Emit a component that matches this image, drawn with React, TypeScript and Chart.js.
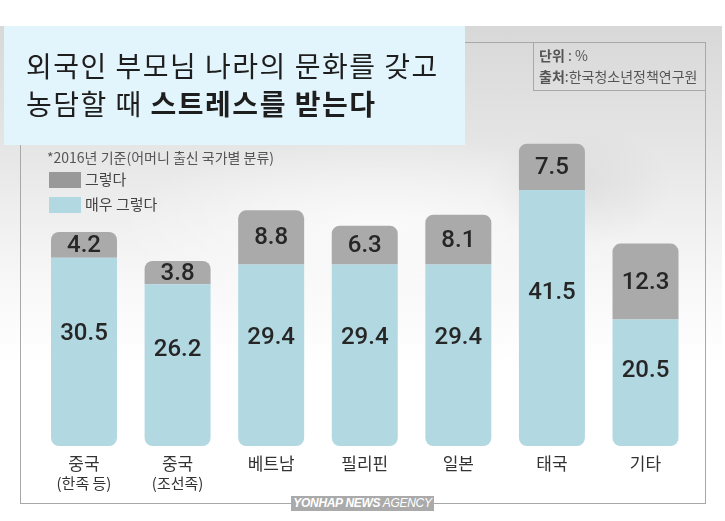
import React, { useEffect, useRef } from "react";
import { Chart, registerables } from "chart.js";

Chart.register(...registerables);

const categories: string[][] = [
  ["중국", "(한족 등)"],
  ["중국", "(조선족)"],
  ["베트남"],
  ["필리핀"],
  ["일본"],
  ["태국"],
  ["기타"],
];
const veryMuch: number[] = [30.5, 26.2, 29.4, 29.4, 29.4, 41.5, 20.5];
const somewhat: number[] = [4.2, 3.8, 8.8, 6.3, 8.1, 7.5, 12.3];
const seriesNames = ["매우 그렇다", "그렇다"];

const BLUE = "#b2d8e2";
const GRAY = "#aaaaaa";
const KR = "'Noto Sans CJK KR', 'Noto Sans', sans-serif";

const labelsPlugin = {
  id: "customLabels",
  afterDatasetsDraw(chart: any) {
    const ctx = chart.ctx;
    ctx.save();
    ctx.textAlign = "center";
    ctx.textBaseline = "middle";
    ctx.fillStyle = "#262626";
    ctx.font = "500 24px Roboto, 'Noto Sans', sans-serif";
    chart.data.datasets.forEach((ds: any, di: number) => {
      const meta = chart.getDatasetMeta(di);
      meta.data.forEach((el: any, i: number) => {
        const v = ds.data[i];
        const top = el.y;
        const base = el.base;
        const y = di === 0 ? base - 0.6 * (base - top) : (top + base) / 2;
        ctx.fillText(String(v.toFixed(1)), el.x, y + 1);
      });
    });
    // category labels
    const xs = chart.scales.x;
    const bottom = chart.chartArea.bottom;
    ctx.fillStyle = "#333";
    categories.forEach((lab, i) => {
      const x = xs.getPixelForValue(i);
      ctx.font = `17px ${KR}`;
      ctx.fillText(lab[0], x, bottom + 18);
      if (lab[1]) {
        ctx.font = `15px ${KR}`;
        ctx.fillText(lab[1], x, bottom + 37);
      }
    });
    ctx.restore();
  },
};

export default function App() {
  const ref = useRef<HTMLCanvasElement>(null);
  useEffect(() => {
    if (!ref.current) return;
    const chart = new Chart(ref.current, {
      type: "bar",
      data: {
        labels: categories.map((c) => c.join(" ")),
        datasets: [
          {
            label: seriesNames[0],
            data: veryMuch,
            backgroundColor: BLUE,
            borderWidth: 0,
            borderSkipped: false,
            borderRadius: { topLeft: 0, topRight: 0, bottomLeft: 8, bottomRight: 8 },
          },
          {
            label: seriesNames[1],
            data: somewhat,
            backgroundColor: GRAY,
            borderWidth: 0,
            borderSkipped: false,
            borderRadius: { topLeft: 8, topRight: 8, bottomLeft: 0, bottomRight: 0 },
          },
        ],
      },
      options: {
        animation: false,
        responsive: false,
        maintainAspectRatio: false,
        layout: { padding: { left: 37.2, right: 32.7, top: 137.5, bottom: 75 } },
        plugins: { legend: { display: false }, tooltip: { enabled: false } },
        datasets: { bar: { barPercentage: 0.705, categoryPercentage: 1 } },
        scales: {
          x: { stacked: true, display: false },
          y: { stacked: true, display: false, min: 0, max: 50 },
        },
      },
      plugins: [labelsPlugin],
    });
    return () => chart.destroy();
  }, []);

  const abs = (s: React.CSSProperties): React.CSSProperties => ({ position: "absolute", ...s });

  return (
    <div style={abs({ left: 0, top: 0, width: 725, height: 521, background: "#fff", overflow: "hidden", fontFamily: KR })}>
      <div
        style={abs({
          left: 0,
          top: 26,
          width: 722,
          height: 477,
          background:
            "radial-gradient(ellipse 90px 60px at 580px 160px, rgba(200,200,200,0.35), rgba(255,255,255,0) 100%), radial-gradient(ellipse 260px 90px at 380px 200px, rgba(255,255,255,0.7), rgba(255,255,255,0) 100%), linear-gradient(to bottom, #d8d8d8 0px, #e4e4e4 110px, #efefef 190px, #f8f8f8 260px, #ffffff 340px)",
        })}
      />
      <div style={abs({ left: 4, top: 26, width: 461, height: 119, background: "#e3f5fc" })} />
      <div style={abs({ left: 465, top: 42, width: 240, height: 1, background: "#a8a8a8" })} />
      <div style={abs({ left: 533, top: 42, width: 172, height: 49, borderLeft: "1px solid #a8a8a8", borderBottom: "1px solid #a8a8a8", boxSizing: "border-box" })} />
      <div style={abs({ left: 705, top: 42, width: 1, height: 462, background: "#a8a8a8" })} />
      <div style={abs({ left: 20, top: 145, width: 1, height: 359, background: "#a8a8a8" })} />
      <div style={abs({ left: 20, top: 503, width: 686, height: 1, background: "#a8a8a8" })} />
      <div
        style={abs({
          left: 291,
          top: 496,
          width: 143,
          height: 15,
          background: "#aaaaaa",
          color: "#fff",
          fontFamily: "'Liberation Sans', Arial, sans-serif",
          fontStyle: "italic",
          fontSize: 12,
          lineHeight: "15px",
          textAlign: "center",
          letterSpacing: -0.3,
          whiteSpace: "nowrap",
        })}
      >
        <b>YONHAP NEWS</b> <span style={{ fontWeight: 400 }}>AGENCY</span>
      </div>

      <canvas ref={ref} width={725} height={521} style={abs({ left: 0, top: 0, width: 725, height: 521 })} />

      <div style={abs({ left: 26, top: 46, fontSize: 28, lineHeight: "38px", color: "#1e1e1e", whiteSpace: "nowrap", letterSpacing: 1.5 })}>
        <div>외국인 부모님 나라의 문화를 갖고</div>
        <div>
          농담할 때 <b>스트레스를 받는다</b>
        </div>
      </div>

      <div style={abs({ left: 539, top: 45, fontSize: 14, lineHeight: "21px", color: "#555", whiteSpace: "nowrap" })}>
        <div>
          <b>단위</b> : %
        </div>
        <div>
          <b>출처</b>:한국청소년정책연구원
        </div>
      </div>

      <div style={abs({ left: 47, top: 148, fontSize: 14, lineHeight: "18px", color: "#555", whiteSpace: "nowrap" })}>
        *2016년 기준(어머니 출신 국가별 분류)
      </div>
      <div style={abs({ left: 49, top: 172, width: 32, height: 16, background: "#999" })} />
      <div style={abs({ left: 85, top: 169, fontSize: 15, lineHeight: "20px", color: "#444", whiteSpace: "nowrap" })}>{seriesNames[1]}</div>
      <div style={abs({ left: 49, top: 197, width: 32, height: 16, background: BLUE })} />
      <div style={abs({ left: 85, top: 194, fontSize: 15, lineHeight: "20px", color: "#444", whiteSpace: "nowrap" })}>{seriesNames[0]}</div>
    </div>
  );
}
